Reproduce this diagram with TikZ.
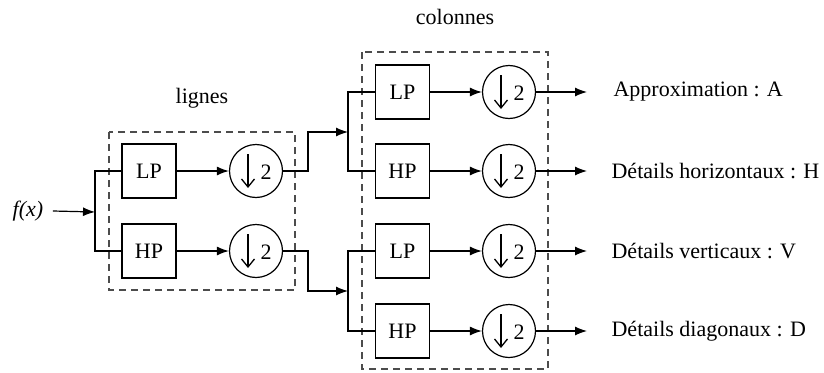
\documentclass[tikz,border=0pt]{standalone}
\usepackage{fontspec}
\setmainfont{Liberation Serif}
\usetikzlibrary{arrows.meta}
\begin{document}
\begin{tikzpicture}[x=1pt,y=-1pt,
  line width=1.2pt,
  txt/.style={font=\fontsize{22}{25}\selectfont, inner sep=0pt},
  filt/.style={draw, minimum width=54pt, minimum height=54pt, inner sep=0pt, font=\fontsize{22}{25}\selectfont},
  down/.style={draw, circle, minimum size=53pt, inner sep=0pt},
  grp/.style={draw=black!70, dash pattern=on 7pt off 5pt, line width=1.2pt},
  sig/.style={-{Latex[length=12pt,width=9pt]}},
]
\useasboundingbox (0,0) rectangle (824,372);

% input
\node[txt, font=\fontsize{22}{25}\selectfont\itshape] (fx) at (28,211) {f(x)};
\coordinate (j0) at (95,212);

% lignes stage
\node[filt] (LP1) at (149,171) {LP};
\node[filt] (HP1) at (149,251) {HP};
\node[down] (D1) at (256,171) {};
\node[down] (D2) at (256,251) {};

% colonnes stage
\node[filt] (LP2) at (402.5,92) {LP};
\node[filt] (HP2) at (402.5,171) {HP};
\node[filt] (LP3) at (402.5,251) {LP};
\node[filt] (HP3) at (402.5,331) {HP};
\node[down] (D3) at (509,92) {};
\node[down] (D4) at (509,171) {};
\node[down] (D5) at (509,251) {};
\node[down] (D6) at (509,331) {};

% down-sampling symbols
\foreach \c in {D1,D2,D3,D4,D5,D6}{
  \draw[line width=1.3pt, -{Straight Barb[length=8pt,width=13pt]}] ([xshift=-8pt,yshift=17pt]\c.center) -- ([xshift=-8pt,yshift=-17pt]\c.center);
  \node[txt] at ([xshift=10pt,yshift=-1pt]\c.center) {2};
}

% group boxes
\draw[grp] (109,132) rectangle (295,290);
\draw[grp] (362,52) rectangle (548,369);
\node[txt] (lig) at (202,98) {lignes};
\node[txt] (col) at (455,17) {colonnes};

% connections, lignes stage
\draw[sig] (fx.east) ++(9pt,0) -- (j0);
\draw (LP1.west) -| (j0) |- (HP1.west);
\draw[sig] (LP1) -- (D1);
\draw[sig] (HP1) -- (D2);

% connections to colonnes stage
\coordinate (j1) at (348,132);
\coordinate (j2) at (348,291);
\draw[sig] (D1.east) -| (308,132) -- (j1);
\draw[sig] (D2.east) -| (308,291) -- (j2);
\draw (LP2.west) -| (j1) |- (HP2.west);
\draw (LP3.west) -| (j2) |- (HP3.west);
\draw[sig] (LP2) -- (D3);
\draw[sig] (HP2) -- (D4);
\draw[sig] (LP3) -- (D5);
\draw[sig] (HP3) -- (D6);

% outputs
\node[txt, anchor=west] (oA) at (613,92) {Approximation : A};
\node[txt, anchor=west] (oH) at (611,171) {Détails horizontaux : H};
\node[txt, anchor=west] (oV) at (611,251) {Détails verticaux : V};
\node[txt, anchor=west] (oD) at (611,331) {Détails diagonaux : D};
\draw[sig] (D3.east) -- (587,92);
\draw[sig] (D4.east) -- (587,171);
\draw[sig] (D5.east) -- (587,251);
\draw[sig] (D6.east) -- (587,331);
\end{tikzpicture}
\end{document}
